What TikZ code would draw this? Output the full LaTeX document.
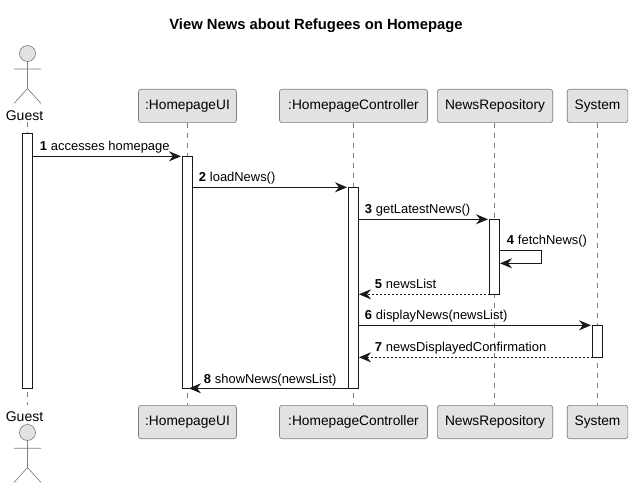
\documentclass[tikz,border=0pt]{standalone}
\usepackage{fontspec}
\setmainfont{Liberation Sans}
\usetikzlibrary{arrows.meta}
\definecolor{partfill}{HTML}{E2E2E2}
\definecolor{partline}{HTML}{7F7F7F}
\definecolor{inkline}{HTML}{181818}
\tikzset{
  x=0.75pt,y=-0.75pt,
  partbox/.style={draw=partline,fill=partfill,rounded corners=1.9pt,line width=0.5pt,minimum height=25pt,inner sep=0pt,anchor=center,font=\fontsize{10.3}{12}\selectfont,text=black},
  lifeline/.style={draw=partline,line width=0.5pt,dash pattern=on 3.75pt off 3.75pt},
  activebar/.style={draw=inkline,fill=white,line width=0.75pt},
  stick/.style={draw=partline,line width=0.5pt},
  msgline/.style={draw=inkline,line width=0.75pt,-{Stealth[length=9pt,width=7.5pt,inset=3pt,fill=inkline]}},
  retline/.style={draw=inkline,line width=0.5pt,dash pattern=on 1.5pt off 1.5pt,-{Stealth[length=9pt,width=7.5pt,inset=3pt,fill=inkline]}},
  msglabel/.style={anchor=base west,inner sep=0pt,font=\fontsize{9.7}{12}\selectfont,text=black},
  actorlabel/.style={inner sep=0pt,anchor=center,font=\fontsize{10.5}{12}\selectfont,text=black},
  titlelabel/.style={inner sep=0pt,anchor=center,font=\fontsize{11.1}{12}\bfseries\selectfont,text=black},
}
\newcommand{\seqnum}[1]{\textbf{#1}\hspace{3pt}}
\begin{document}
\begin{tikzpicture}
\useasboundingbox (0,0) rectangle (632,488);
\fill[white] (0,0) rectangle (632,488);
\node[titlelabel] (title) at (316,25.5) {View News about Refugees on Homepage};
% lifelines
\coordinate (guestTop) at (27.5,122);
\coordinate (guestBot) at (27.5,405);
\draw[lifeline] (guestTop) -- (guestBot);
\node[partbox,minimum width=73.5pt] (uiT) at (187.5,106) {:HomepageUI};
\node[partbox,minimum width=73.5pt] (uiB) at (187.5,422) {:HomepageUI};
\node[partbox,minimum width=111pt] (ctlT) at (353.5,106) {:HomepageController};
\node[partbox,minimum width=111pt] (ctlB) at (353.5,422) {:HomepageController};
\node[partbox,minimum width=86.5pt] (repoT) at (495,106) {NewsRepository};
\node[partbox,minimum width=86.5pt] (repoB) at (495,422) {NewsRepository};
\node[partbox,minimum width=45.5pt] (sysT) at (597.5,106) {System};
\node[partbox,minimum width=45.5pt] (sysB) at (597.5,422) {System};
\draw[lifeline] (uiT.south) -- (uiB.north);
\draw[lifeline] (ctlT.south) -- (ctlB.north);
\draw[lifeline] ([xshift=-0.4pt]repoT.south) -- ([xshift=-0.4pt]repoB.north);
\draw[lifeline] (sysT.south) -- (sysB.north);
% actors
\node[actorlabel] (guestT) at (24.5,115.5) {Guest};
\node[actorlabel] (guestB) at (24.5,416.5) {Guest};
\node[circle,draw=partline,fill=partfill,line width=0.5pt,minimum size=12pt,inner sep=0pt] (headT) at (27.5,53.5) {};
\node[circle,draw=partline,fill=partfill,line width=0.5pt,minimum size=12pt,inner sep=0pt] (headB) at (27.5,432.5) {};
\draw[stick] (headT.south) -- (27.5,88.5) -- (14,103.5) (27.5,88.5) -- (41,103.5) (14,69) -- (41,69);
\draw[stick] (headB.south) -- (27.5,467.5) -- (14,482.5) (27.5,467.5) -- (41,482.5) (14,448.3) -- (41,448.3);
% activations
\draw[activebar] (22.5,133.3) rectangle (32.5,388.3);
\draw[activebar] (182.5,156.3) rectangle (192.5,388.3);
\draw[activebar] (348.5,187.3) rectangle (358.5,388.3);
\draw[activebar] (489.5,219.3) rectangle (499.5,294.3);
\draw[activebar] (592.5,325.3) rectangle (602.5,357.3);
% anchors
\coordinate (g1) at (32.5,156.3); \coordinate (u1) at (181,156.3);
\coordinate (u2) at (192.5,187.3); \coordinate (c2) at (347,187.3);
\coordinate (c3) at (358.5,219.3); \coordinate (r3) at (488,219.3);
\coordinate (r4a) at (499.5,250.5); \coordinate (r4b) at (541.7,250.5); \coordinate (r4c) at (541.7,263.3); \coordinate (r4d) at (500,263.3);
\coordinate (r5) at (489.5,294.3); \coordinate (c5) at (359,294.3);
\coordinate (c6) at (358.5,325.3); \coordinate (s6) at (591,325.3);
\coordinate (s7) at (592.5,357.3); \coordinate (c7) at (359,357.3);
\coordinate (c8) at (348.5,388.3); \coordinate (u8) at (189,388.3);
\draw[msgline] (g1) -- (u1);
\draw[msgline] (u2) -- (c2);
\draw[msgline] (c3) -- (r3);
\draw[msgline] (r4a) -- (r4b) -- (r4c) -- (r4d);
\draw[retline] (r5) -- (c5);
\draw[msgline] (c6) -- (s6);
\draw[retline] (s7) -- (c7);
\draw[msgline] (c8) -- (u8);
% labels
\node[msglabel] (m1) at (39.5,151) {\seqnum{1}accesses homepage};
\node[msglabel] (m2) at (198.5,182) {\seqnum{2}loadNews()};
\node[msglabel] (m3) at (364.5,214) {\seqnum{3}getLatestNews()};
\node[msglabel] (m4) at (506.5,245) {\seqnum{4}fetchNews()};
\node[msglabel] (m5) at (374.5,289) {\seqnum{5}newsList};
\node[msglabel] (m6) at (364.5,320) {\seqnum{6}displayNews(newsList)};
\node[msglabel] (m7) at (374.5,352) {\seqnum{7}newsDisplayedConfirmation};
\node[msglabel] (m8) at (203.5,383) {\seqnum{8}showNews(newsList)};
\end{tikzpicture}
\end{document}
